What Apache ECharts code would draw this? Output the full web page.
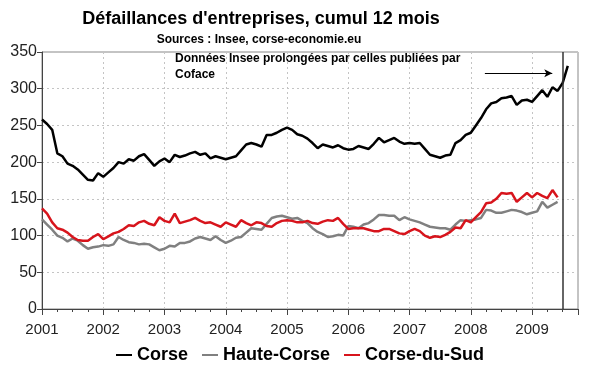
<!DOCTYPE html>
<html><head><meta charset="utf-8">
<script src="https://cdn.jsdelivr.net/npm/echarts@6/dist/echarts.min.js"></script>
<style>html,body{margin:0;padding:0;background:#fff}#c{width:600px;height:372px}</style>
</head><body><div id="c"></div>
<script>
const startYear = 2001;
const yearTicks = [2001, 2002, 2003, 2004, 2005, 2006, 2007, 2008, 2009];
const seriesNames = ['Corse', 'Haute-Corse', 'Corse-du-Sud'];
// monthly values starting January 2001
const corse = [258,252,244,212,208,198,195,190,183,176,175,185,
  180,186,192,200,198,204,202,208,211,203,195,201,
  205,200,210,207,209,212,214,210,212,205,208,206,
  204,206,208,216,224,226,224,221,237,237,240,244,
  247,244,238,236,232,226,219,224,222,220,223,219,
  217,218,222,220,218,225,233,227,230,233,228,225,
  226,225,226,218,210,208,206,209,210,226,230,237,
  240,250,260,272,280,282,287,288,290,278,284,285,
  282,290,298,289,302,297,308,331];
const hauteCorse = [122,115,108,100,97,92,96,93,87,82,84,85,
  87,86,88,98,94,91,90,88,89,88,84,80,
  82,86,85,90,90,92,96,98,96,94,99,94,
  90,93,97,98,104,110,109,108,116,124,126,127,
  125,123,124,120,117,110,105,102,98,99,101,100,
  113,112,110,115,117,122,128,128,127,127,121,125,
  122,120,118,115,112,111,110,110,108,115,121,120,
  121,122,124,135,134,131,131,133,135,134,132,129,
  131,133,146,138,142,146];
const corseDuSud = [137,130,118,110,108,104,98,94,93,93,98,102,
  95,99,103,105,109,114,113,118,120,116,114,125,
  120,118,130,117,119,121,124,120,117,118,115,112,
  118,115,112,121,117,114,118,117,113,112,117,120,
  121,120,118,118,120,117,116,119,121,120,124,116,
  109,110,110,110,108,106,106,109,109,106,103,102,
  106,109,106,100,97,99,98,101,105,111,110,121,
  118,125,132,144,145,150,158,157,158,146,152,158,
  152,158,154,151,162,152];
const splitYear = 2009.5;

const toPts = arr => arr.map((v, i) => [startYear + i / 12, v]);
const chart = echarts.init(document.getElementById('c'));
const FONT = 'Liberation Sans, Arial, sans-serif';
chart.setOption({
  animation: false,
  grid: {left: 42, right: 22, top: 52, bottom: 63, show: true, borderColor: '#888', borderWidth: 1},
  graphic: [
    {type: 'text', x: 261, y: 19, style: {text: "Défaillances d'entreprises, cumul 12 mois", font: 'bold 18px ' + FONT, fill: '#000', align: 'center', verticalAlign: 'middle'}},
    {type: 'text', x: 259, y: 40, style: {text: 'Sources : Insee, corse-economie.eu', font: 'bold 12px ' + FONT, fill: '#000', align: 'center', verticalAlign: 'middle'}},
    {type: 'text', x: 175, y: 67, style: {text: 'Données Insee prolongées par celles publiées par\nCoface', font: 'bold 12px ' + FONT, fill: '#000', align: 'left', verticalAlign: 'middle', lineHeight: 16}}
  ],
  legend: {
    data: seriesNames, bottom: 3, left: 'center', icon: 'rect', itemWidth: 16, itemHeight: 2, itemGap: 14,
    textStyle: {fontSize: 18, fontWeight: 'bold', color: '#000', fontFamily: FONT}
  },
  xAxis: {
    type: 'value', min: 2001, max: 2009.75, interval: 1,
    axisLine: {lineStyle: {color: '#444'}},
    axisTick: {show: true, length: 6, lineStyle: {color: '#444'}},
    minorTick: {show: true, splitNumber: 4, length: 3, lineStyle: {color: '#444'}},
    axisLabel: {margin: 13, fontSize: 15, color: '#222', fontFamily: FONT,
      formatter: v => yearTicks.includes(Math.round(v * 1000) / 1000) ? String(v) : ''},
    splitLine: {show: true, lineStyle: {color: '#c4c4c4', type: [2, 3]}}
  },
  yAxis: {
    type: 'value', min: 0, max: 350, interval: 50,
    axisLine: {show: true, lineStyle: {color: '#444'}},
    axisTick: {show: true, length: 5, lineStyle: {color: '#444'}},
    axisLabel: {margin: 5, fontSize: 16, color: '#222', fontFamily: FONT},
    splitLine: {show: true, lineStyle: {color: '#c4c4c4', type: [2, 3]}}
  },
  series: [
    {name: 'Corse', type: 'line', data: toPts(corse), symbol: 'none', color: '#000', lineStyle: {width: 2.5, color: '#000'},
     markLine: {silent: true, symbol: ['none', 'none'], label: {show: false},
       data: [{xAxis: splitYear, lineStyle: {color: '#333', width: 1.5, type: 'solid'}},
              [{coord: [2008.23, 321], symbol: 'none', lineStyle: {color: '#000', width: 1, type: 'solid'}},
               {coord: [2009.33, 321], symbol: 'arrow', symbolSize: [6, 8]}]]}},
    {name: 'Haute-Corse', type: 'line', data: toPts(hauteCorse), symbol: 'none', color: '#808080', lineStyle: {width: 2.5, color: '#808080'}},
    {name: 'Corse-du-Sud', type: 'line', data: toPts(corseDuSud), symbol: 'none', color: '#d7141c', lineStyle: {width: 2.5, color: '#d7141c'}}
  ]
});
</script></body></html>
